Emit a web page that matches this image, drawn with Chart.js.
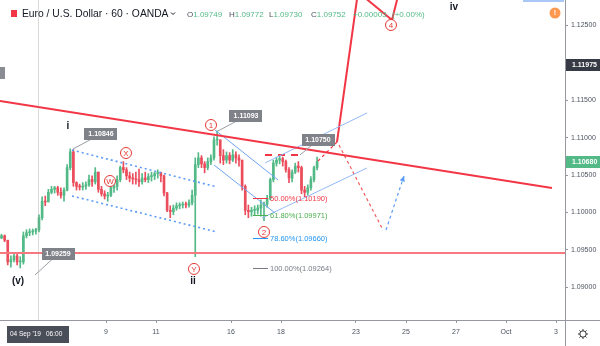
<!DOCTYPE html>
<html><head><meta charset="utf-8">
<script src="https://cdn.jsdelivr.net/npm/chart.js@4.4.0/dist/chart.umd.min.js"></script>
<style>html,body{margin:0;padding:0;background:#fff;overflow:hidden}canvas{display:block}</style>
</head><body>
<canvas id="c" width="600" height="346"></canvas>
<script>
// ---- time axis: trading days since Mon 9 Sep 2019 00:00 (weekends removed) ----
const tickDays   = [0, 2, 5, 7, 10, 12, 14, 16, 18];
const tickLabels = ['9', '11', '16', '18', '23', '25', '27', 'Oct', '3'];
const cursorDay  = -2.72;                 // 04 Sep '19 06:00
const cursorLabel = ["04 Sep '19", '06:00'];
const priceTicks = [1.090, 1.095, 1.100, 1.105, 1.110, 1.115, 1.120, 1.125];

// ---- EUR/USD candles (3-hour steps) ----
const firstCandleDay = -4.18;
const candleStepDays = 0.125;
const firstOpen = 1.0966;
const highs = [1.0971,1.0970,1.0963,1.0942,1.0946,1.0945,1.0941,1.0974,1.0977,1.0978,1.0978,1.0979,1.0997,1.1021,1.1022,1.1031,1.1035,1.1035,1.1035,1.1033,
 1.1033,1.1064,1.1085,1.1084,1.1041,1.1038,1.1040,1.1041,1.1050,1.1049,1.1060,1.1054,1.1035,1.1029,1.1027,1.1037,1.1041,1.1049,1.1062,1.1068,
 1.1060,1.1054,1.1052,1.1054,1.1058,1.1052,1.1054,1.1052,1.1054,1.1054,1.1057,1.1054,1.1050,1.1027,1.1009,1.1010,1.1013,1.1013,1.1014,1.1014,
 1.1017,1.1030,1.1073,1.1080,1.1076,1.1068,1.1073,1.1077,1.1101,1.1109,1.1097,1.1084,1.1081,1.1080,1.1084,1.1081,1.1077,1.1070,1.1037,1.1010,
 1.1007,1.1009,1.1010,1.1017,1.1014,1.1023,1.1046,1.1070,1.1074,1.1076,1.1074,1.1070,1.1060,1.1057,1.1066,1.1068,1.1062,1.1035,1.1037,1.1048,
 1.1062,1.1074];
const lows = [1.0965,1.0961,1.0930,1.0927,1.0934,1.0930,1.0926,1.0931,1.0966,1.0969,1.0970,1.0971,1.0974,1.0990,1.1009,1.1017,1.1025,1.1026,1.1023,1.1019,
 1.1015,1.1029,1.1057,1.1035,1.1030,1.1030,1.1030,1.1031,1.1035,1.1035,1.1038,1.1027,1.1022,1.1018,1.1015,1.1021,1.1027,1.1030,1.1041,1.1053,
 1.1044,1.1041,1.1038,1.1038,1.1035,1.1038,1.1041,1.1040,1.1042,1.1044,1.1046,1.1041,1.1022,1.1001,1.0993,1.0997,1.1003,1.1005,1.1006,1.1006,
 1.1007,1.1010,1.0941,1.1060,1.1060,1.1053,1.1057,1.1064,1.1070,1.1090,1.1066,1.1064,1.1066,1.1065,1.1068,1.1066,1.1062,1.1030,1.0997,1.0993,
 1.0995,1.0997,1.0998,1.0995,1.0989,1.1007,1.1017,1.1041,1.1062,1.1065,1.1062,1.1054,1.1040,1.1041,1.1052,1.1054,1.1025,1.1021,1.1023,1.1030,
 1.1041,1.1057];
const closes = [1.0969,1.0963,1.0934,1.0937,1.0942,1.0934,1.0934,1.0969,1.0973,1.0974,1.0975,1.0977,1.0993,1.1015,1.1014,1.1027,1.1031,1.1033,1.1027,1.1023,
 1.1030,1.1060,1.1081,1.1040,1.1035,1.1034,1.1035,1.1037,1.1044,1.1041,1.1054,1.1031,1.1025,1.1022,1.1023,1.1033,1.1035,1.1044,1.1060,1.1057,
 1.1049,1.1046,1.1045,1.1044,1.1041,1.1046,1.1044,1.1048,1.1049,1.1052,1.1053,1.1049,1.1026,1.1003,1.1001,1.1006,1.1009,1.1010,1.1011,1.1010,
 1.1013,1.1023,1.1064,1.1073,1.1065,1.1060,1.1068,1.1073,1.1097,1.1097,1.1076,1.1070,1.1076,1.1070,1.1077,1.1073,1.1070,1.1035,1.1003,1.1001,
 1.1003,1.1003,1.1006,1.1010,1.1011,1.1019,1.1044,1.1066,1.1070,1.1072,1.1068,1.1057,1.1046,1.1054,1.1062,1.1060,1.1030,1.1027,1.1033,1.1044,
 1.1060,1.1068];
const lastPrice = 1.10680;
const markedPrice = 1.11975;

// ---- analysis drawings, in [trading day, price] ----
const resistanceLine = [[-4.24, 1.11490], [17.84, 1.10328]];
const supportLevel = 1.0946;
const channelUpper = [[-1.36, 1.10835], [4.44, 1.10341]];
const channelLower = [[-1.36, 1.10221], [4.44, 1.09740]];
const wave2Upper = [[4.36, 1.11103], [6.88, 1.10435]];
const wave2Lower = [[4.32, 1.10635], [6.76, 1.09994]];
const riseUpper = [[6.36, 1.10662], [10.44, 1.11330]];
const riseLower = [[6.24, 1.09927], [10.44, 1.10595]];
const breakLevel = [[6.36, 1.10769], [7.84, 1.10769]];
const bullLead = [[8.48, 1.10688], [9.24, 1.10942]];
const bullPath = [[9.24, 1.10942], [10.08, 1.12946], [11.44, 1.12572], [11.76, 1.12999]];
const bearPath = [[9.32, 1.10902], [11.08, 1.09767]];
const reboundPath = [[11.20, 1.09767], [11.92, 1.10488]];

const fibRatios = ['50.00%', '61.80%', '78.60%', '100.00%'];
const fibValues = [1.10190, 1.09971, 1.09660, 1.09264];
const fibSpan = [5.88, 6.48];
const fibTextDay = 6.56;

const tagValues  = [1.10846, 1.09259, 1.11093, 1.10750];
const tagAnchors = [[-1.32, 1.10849], [-2.84, 1.09165], [4.48, 1.11089], [7.76, 1.10769]];
const tagBoxes   = [[-0.20, 1.11049], [-1.92, 1.09446], [5.60, 1.11289], [8.48, 1.10969]];

const circleTexts = ['1', '2', '4', 'X', 'W', 'Y'];
const circleAt = [[4.20, 1.11169], [6.32, 1.09740], [11.40, 1.12505], [0.80, 1.10795], [0.16, 1.10421], [3.52, 1.09246]];
const waveTexts = ['i', 'ii', '(v)', 'iv'];
const waveAt = [[-1.52, 1.11156], [3.48, 1.09085], [-3.52, 1.09085], [13.92, 1.12745]];

// ---- styles ----
const UP = '#53b987', DOWN = '#eb4d5c';
const RED = '#f23645', BLUE = '#5b9cf6', LIGHTBLUE = '#93b9f7';
const fibColors = ['#f23645', '#4caf50', '#2196f3', '#787b86'];
const FONT = '"Liberation Sans", Arial, sans-serif';

const candleDays = closes.map((_, i) => firstCandleDay + i * candleStepDays);
const opens = closes.map((c, i) => i === 0 ? firstOpen : closes[i - 1]);
const candleColors = closes.map((c, i) => c >= opens[i] ? UP : DOWN);

const pts = arr => arr.map(([x, y]) => ({x, y}));
function lineSet(arr, color, width, dash) {
  return {type: 'line', data: pts(arr), borderColor: color, borderWidth: width, borderDash: dash || [],
          pointRadius: 0, fill: false, tension: 0, order: 0, clip: false};
}

const overlay = {
  id: 'overlay',
  afterDatasetsDraw(chart) {
    const {ctx, scales: {x, y}} = chart;
    const X = d => x.getPixelForValue(d), Y = p => y.getPixelForValue(p);
    ctx.save();
    // crosshair vertical
    ctx.strokeStyle = 'rgba(150,150,150,0.35)'; ctx.lineWidth = 1;
    ctx.beginPath(); ctx.moveTo(Math.round(X(cursorDay)) + 0.5, 0); ctx.lineTo(Math.round(X(cursorDay)) + 0.5, 320); ctx.stroke();
    // fib levels
    ctx.font = '7.5px ' + FONT; ctx.textBaseline = 'middle'; ctx.textAlign = 'left';
    fibValues.forEach((v, i) => {
      ctx.strokeStyle = fibColors[i]; ctx.lineWidth = 1;
      const yy = Math.round(Y(v)) + 0.5;
      ctx.beginPath(); ctx.moveTo(X(fibSpan[0]), yy); ctx.lineTo(X(fibSpan[1]), yy); ctx.stroke();
      ctx.fillStyle = fibColors[i];
      ctx.fillText(fibRatios[i] + '(' + v.toFixed(5) + ')', X(fibTextDay), yy);
    });
    // arrowhead of rebound path
    const a = reboundPath[reboundPath.length - 2], b = reboundPath[reboundPath.length - 1];
    const ax = X(a[0]), ay = Y(a[1]), bx = X(b[0]), by = Y(b[1]);
    const ang = Math.atan2(by - ay, bx - ax);
    ctx.fillStyle = BLUE;
    ctx.beginPath(); ctx.moveTo(bx, by);
    ctx.lineTo(bx - 6 * Math.cos(ang - 0.45), by - 6 * Math.sin(ang - 0.45));
    ctx.lineTo(bx - 6 * Math.cos(ang + 0.45), by - 6 * Math.sin(ang + 0.45));
    ctx.closePath(); ctx.fill();
    // price tags
    tagValues.forEach((v, i) => {
      const px = X(tagAnchors[i][0]), py = Y(tagAnchors[i][1]);
      const cx = X(tagBoxes[i][0]), cy = Y(tagBoxes[i][1]);
      ctx.strokeStyle = '#9a9ca3'; ctx.lineWidth = 1;
      ctx.beginPath(); ctx.moveTo(px, py); ctx.lineTo(cx, cy); ctx.stroke();
      ctx.fillStyle = '#808289';
      ctx.fillRect(Math.round(cx - 16.5), Math.round(cy - 6), 33, 12);
      ctx.fillStyle = '#fff'; ctx.font = 'bold 7px ' + FONT; ctx.textAlign = 'center';
      ctx.fillText(v.toFixed(5), cx, cy + 0.5);
    });
    // circled wave labels
    circleTexts.forEach((t, i) => {
      const cx = X(circleAt[i][0]), cy = Y(circleAt[i][1]);
      ctx.beginPath(); ctx.arc(cx, cy, 5.5, 0, Math.PI * 2);
      ctx.fillStyle = '#fff'; ctx.fill();
      ctx.strokeStyle = '#e53935'; ctx.lineWidth = 1; ctx.stroke();
      ctx.fillStyle = '#e53935'; ctx.font = '8px ' + FONT; ctx.textAlign = 'center';
      ctx.fillText(t, cx, cy + 0.5);
    });
    // wave degree labels
    ctx.fillStyle = '#131722'; ctx.font = 'bold 10px ' + FONT; ctx.textAlign = 'center';
    waveTexts.forEach((t, i) => ctx.fillText(t, X(waveAt[i][0]), Y(waveAt[i][1])));
    ctx.restore();
  },
  afterDraw(chart) {
    const {ctx, scales: {x, y}} = chart;
    ctx.save();
    // frame lines
    ctx.strokeStyle = '#9598a1'; ctx.lineWidth = 1;
    ctx.beginPath(); ctx.moveTo(565.5, 0); ctx.lineTo(565.5, 346); ctx.stroke();
    ctx.beginPath(); ctx.moveTo(0, 320.5); ctx.lineTo(600, 320.5); ctx.stroke();
    // header
    ctx.fillStyle = '#f23645'; ctx.fillRect(11, 10, 6, 7);
    ctx.fillStyle = '#131722'; ctx.font = '10.3px ' + FONT; ctx.textBaseline = 'middle'; ctx.textAlign = 'left';
    ctx.fillText('Euro / U.S. Dollar · 60 · OANDA', 22, 14.5);
    ctx.strokeStyle = '#131722'; ctx.beginPath(); ctx.moveTo(171, 12.5); ctx.lineTo(173, 14.5); ctx.lineTo(175, 12.5); ctx.stroke();
    const ohlc = [['O', '1.09749', 187], ['H', '1.09772', 229], ['L', '1.09730', 269], ['C', '1.09752', 311]];
    ctx.font = '8px ' + FONT;
    ohlc.forEach(([k, v, px]) => {
      ctx.fillStyle = '#4c525e'; ctx.fillText(k, px, 15);
      const w = ctx.measureText(k).width;
      ctx.fillStyle = '#53b987'; ctx.fillText(v, px + w, 15);
    });
    ctx.fillStyle = '#53b987';
    ctx.fillText('+0.00003', 353, 15); ctx.fillText('(+0.00%)', 392, 15);
    // alert icon & top strip
    ctx.fillStyle = '#a9c8f7'; ctx.fillRect(523, 0, 41, 2);
    ctx.beginPath(); ctx.arc(555, 13, 5.5, 0, Math.PI * 2); ctx.fillStyle = '#ff9850'; ctx.fill();
    ctx.fillStyle = '#fff'; ctx.font = 'bold 7px ' + FONT; ctx.textAlign = 'center'; ctx.fillText('!', 555, 13.5);
    // left-edge grey tag
    ctx.fillStyle = '#8a8c93'; ctx.fillRect(0, 67, 5, 12);
    // axis value labels
    const boxes = [[markedPrice, '#363a45'], [lastPrice, '#53b987']];
    boxes.forEach(([v, col]) => {
      const yy = Math.round(y.getPixelForValue(v));
      ctx.fillStyle = col; ctx.fillRect(566, yy - 6, 34, 12);
      ctx.fillStyle = '#fff'; ctx.font = 'bold 7px ' + FONT; ctx.textAlign = 'left';
      ctx.fillText(v.toFixed(5), 572, yy + 0.5);
    });
    // cursor time label
    const cx = x.getPixelForValue(cursorDay);
    ctx.fillStyle = '#4a4e59'; ctx.fillRect(Math.round(cx - 31), 326, 62, 17);
    ctx.fillStyle = '#fff'; ctx.font = '6.5px ' + FONT; ctx.textAlign = 'left';
    ctx.fillText(cursorLabel[0], cx - 28, 334.5);
    ctx.fillText(cursorLabel[1], cx + 8, 334.5);
    // settings gear
    ctx.strokeStyle = '#333'; ctx.lineWidth = 1;
    ctx.beginPath(); ctx.arc(583, 334, 3.2, 0, Math.PI * 2); ctx.stroke();
    for (let k = 0; k < 8; k++) {
      const an = k * Math.PI / 4;
      ctx.beginPath(); ctx.moveTo(583 + 3.2 * Math.cos(an), 334 + 3.2 * Math.sin(an));
      ctx.lineTo(583 + 5 * Math.cos(an), 334 + 5 * Math.sin(an)); ctx.stroke();
    }
    ctx.restore();
  }
};

new Chart(document.getElementById('c'), {
  type: 'bar',
  data: {
    datasets: [
      lineSet(resistanceLine, RED, 2),
      lineSet([[-4.24, supportLevel], [18.36, supportLevel]], '#f7787e', 2),
      lineSet(channelUpper, BLUE, 1.6, [2, 3]),
      lineSet(channelLower, BLUE, 1.6, [2, 3]),
      lineSet(wave2Upper, '#6fa3f3', 1),
      lineSet(wave2Lower, '#6fa3f3', 1),
      lineSet(riseUpper, LIGHTBLUE, 1),
      lineSet(riseLower, LIGHTBLUE, 1),
      lineSet(breakLevel, RED, 2, [7, 6]),
      lineSet(bullLead, RED, 1.2, [3, 3]),
      lineSet(bullPath, RED, 2),
      lineSet(bearPath, '#f25a5a', 1.2, [3, 3]),
      lineSet(reboundPath, BLUE, 1.2, [3, 3]),
      {type: 'bar', data: candleDays.map((d, i) => ({x: d, y: [lows[i], highs[i]]})),
       backgroundColor: candleColors, barThickness: 1, grouped: false, order: 5},
      {type: 'bar', data: candleDays.map((d, i) => ({x: d, y: [opens[i], closes[i]]})),
       backgroundColor: candleColors, barThickness: 2, minBarLength: 1, grouped: false, order: 4}
    ]
  },
  options: {
    responsive: false, animation: false, devicePixelRatio: 1,
    layout: {padding: 0},
    plugins: {legend: {display: false}, tooltip: {enabled: false}},
    scales: {
      x: {type: 'linear', min: -4.24, max: 18.36, offset: false,
          afterBuildTicks: s => { s.ticks = tickDays.map(v => ({value: v})); },
          afterFit: s => { s.height = 26; s.paddingLeft = 0; s.paddingRight = 0; },
          ticks: {callback: (v, i) => tickLabels[i], font: {family: FONT, size: 7}, color: '#4c525e',
                  padding: 5, maxRotation: 0, autoSkip: false},
          grid: {drawOnChartArea: false, drawTicks: true, tickLength: 3, color: '#9598a1', offset: false},
          border: {display: false}},
      y: {type: 'linear', position: 'right', min: 1.08564, max: 1.12839,
          afterBuildTicks: s => { s.ticks = priceTicks.map(v => ({value: v})); },
          afterFit: s => { s.width = 35; s.paddingTop = 0; s.paddingBottom = 0; },
          ticks: {callback: v => v.toFixed(5), font: {family: FONT, size: 7}, color: '#4c525e', padding: 3},
          grid: {drawOnChartArea: false, drawTicks: true, tickLength: 3, color: '#9598a1'},
          border: {display: false}}
    }
  },
  plugins: [overlay]
});
</script>
</body></html>
